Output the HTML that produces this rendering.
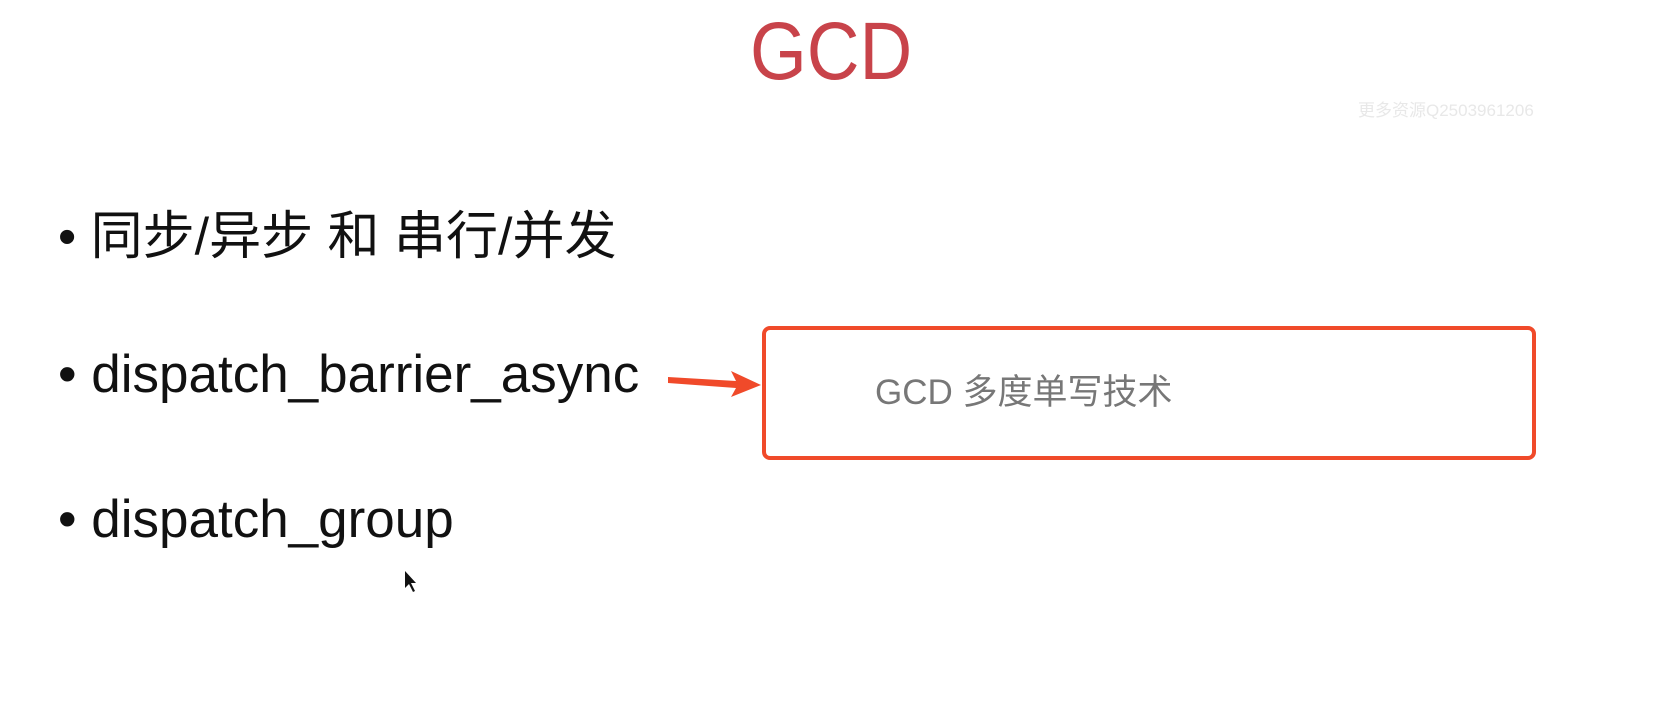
<!DOCTYPE html>
<html><head><meta charset="utf-8"><style>
body{margin:0;width:1672px;height:728px;background:#fff;position:relative;overflow:hidden;font-family:"Liberation Sans","Noto Sans CJK SC",sans-serif;}
.t{position:absolute;white-space:nowrap;line-height:1;}
</style></head><body>
<div class="t" style="left:750px;top:11px;font-size:82px;color:#c8434a;transform:scaleX(0.89);transform-origin:0 0;">GCD</div>
<div class="t" style="left:1358px;top:102px;font-size:17px;color:#e8e8e8;">更多资源Q2503961206</div>
<div class="t" style="left:58px;top:211px;font-size:52px;color:#111;">•&nbsp;同步/异步 和 串行/并发</div>
<div class="t" style="left:58px;top:348px;font-size:53px;color:#111;">•&nbsp;dispatch_barrier_async</div>
<div class="t" style="left:58px;top:493px;font-size:53px;color:#111;">•&nbsp;dispatch_group</div>
<div style="position:absolute;left:762px;top:326px;width:766px;height:126px;border:4px solid #f04a2a;border-radius:8px;"></div>
<div class="t" style="left:875px;top:375px;font-size:35px;color:#777;">GCD 多度单写技术</div>
<svg style="position:absolute;left:0;top:0" width="1672" height="728">
<polygon points="668,377 736,381 731,371 761,385 731,397 736,388 668,383" fill="#f04a2a"/>
<polygon points="405,571 405,588 409,584 413,592 415,591 411,583 416,583" fill="#111"/>
</svg>
</body></html>
